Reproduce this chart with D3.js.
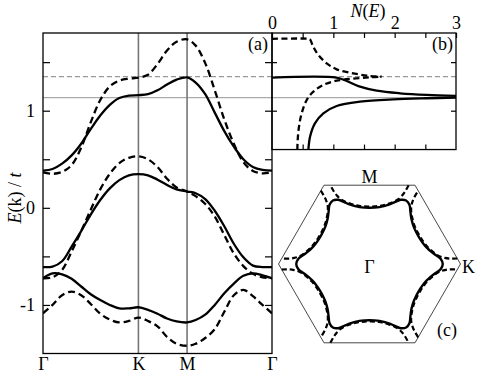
<!DOCTYPE html>
<html>
<head>
<meta charset="utf-8">
<script src="https://cdn.jsdelivr.net/npm/d3@7"></script>
<style>
  body { margin: 0; background: #fff; }
  svg { display: block; }
  text { font-family: "Liberation Serif", "Times New Roman", Times, serif; fill: #000; }
</style>
</head>
<body>
<script>
// --- data ---
// path coordinate along Γ-K-M-Γ
var kNodes = [0, 1, 1.51, 2.4];
var kLabels = ["Γ", "K", "M", "Γ"];
var kGrid = [0, 0.1, 0.2, 0.3, 0.4, 0.5, 0.6, 0.7, 0.8, 0.9, 1.0,
             1.1, 1.2, 1.3, 1.4, 1.51,
             1.6, 1.7, 1.8, 1.9, 2.0, 2.1, 2.2, 2.3, 2.4];

// energies E(k)/t, solid and dashed
var band1Solid = [0.383, 0.40, 0.455, 0.54, 0.66, 0.81, 0.95, 1.06, 1.13, 1.155, 1.16,
                  1.17, 1.21, 1.27, 1.32, 1.343,
                  1.29, 1.17, 0.98, 0.79, 0.63, 0.50, 0.42, 0.39, 0.383];
var band1Dash  = [0.365, 0.35, 0.37, 0.44, 0.62, 0.88, 1.11, 1.25, 1.31, 1.33, 1.34,
                  1.37, 1.48, 1.62, 1.71, 1.735,
                  1.67, 1.49, 1.21, 0.91, 0.66, 0.47, 0.38, 0.355, 0.365];
var band2Solid = [-0.61, -0.605, -0.55, -0.40, -0.24, -0.07, 0.08, 0.20, 0.285, 0.335, 0.347,
                  0.335, 0.29, 0.235, 0.19, 0.168,
                  0.15, 0.09, -0.03, -0.19, -0.37, -0.51, -0.595, -0.61, -0.61];
var band2Dash  = [-0.725, -0.715, -0.64, -0.45, -0.24, -0.02, 0.19, 0.35, 0.46, 0.515, 0.53,
                  0.50, 0.42, 0.30, 0.21, 0.168,
                  0.12, 0.04, -0.09, -0.28, -0.47, -0.60, -0.68, -0.715, -0.725];
var band3Solid = [-0.725, -0.675, -0.685, -0.73, -0.81, -0.89, -0.95, -1.00, -1.035, -1.035, -1.024,
                  -1.05, -1.09, -1.14, -1.17, -1.18,
                  -1.155, -1.10, -1.00, -0.88, -0.78, -0.70, -0.675, -0.695, -0.725];
var band3Dash  = [-1.086, -1.00, -0.90, -0.863, -0.90, -0.99, -1.09, -1.15, -1.18, -1.165, -1.13,
                  -1.165, -1.22, -1.33, -1.40, -1.42,
                  -1.40, -1.34, -1.25, -1.07, -0.90, -0.845, -0.91, -1.00, -1.086];

// reference energies (gray lines)
var eSolidRef = 1.134;
var eDashRef = 1.35;

// density of states N(E), panel (b)
var dosTicks = [0, 1, 2, 3];
var dosSolidUpN = [0, 1.05, 1.218, 1.435, 1.707, 2.087, 2.522, 3.0];
var dosSolidUpE = [1.34, 1.34, 1.306, 1.247, 1.206, 1.179, 1.162, 1.152];
var dosSolidLoN = [0.58, 0.592, 0.62, 0.70, 0.837, 1.055, 1.435, 1.978, 2.522, 3.0];
var dosSolidLoE = [0.50, 0.595, 0.732, 0.87, 0.973, 1.048, 1.093, 1.117, 1.128, 1.134];
var dosDashUpN = [0, 0.60, 0.62, 0.673, 0.755, 0.892, 1.055, 1.326, 1.598, 1.79];
var dosDashUpE = [1.74, 1.74, 1.735, 1.659, 1.574, 1.488, 1.426, 1.385, 1.357, 1.35];
var dosDashLoN = [0.41, 0.413, 0.419, 0.44, 0.484, 0.566, 0.674, 0.837, 1.055, 1.326, 1.598, 1.79];
var dosDashLoE = [0.50, 0.595, 0.698, 0.835, 0.973, 1.11, 1.196, 1.265, 1.309, 1.33, 1.344, 1.35];

// Fermi surfaces, panel (c): one 30° wedge (angle from Γ-K, radius in units of ΓK)
var fsPhi = [0, 4, 8, 12, 16, 20, 25, 30];
var fsSolidR = [0.805, 0.785, 0.73, 0.685, 0.655, 0.635, 0.622, 0.618];
var fsDashPhi = [3.6, 3.9, 4.6, 6, 9, 13, 17, 21, 25, 30];
var fsDashR = [0.967, 0.88, 0.83, 0.78, 0.73, 0.69, 0.662, 0.645, 0.635, 0.632];

// --- layout ---
var W = 480, H = 373, fs = 18;
var svg = d3.select("body").append("svg")
	.attr("width", W)
	.attr("height", H);

var x = d3.scaleLinear().domain([0, 2.4]).range([43, 272]);
var y = d3.scaleLinear().domain([-1.5, 1.8]).range([353.5, 33]);
var xN = d3.scaleLinear().domain([0, 3]).range([272, 456]);
var yB = d3.scaleLinear().domain([0.6, 1.8]).range([y(0.6), 33]);

var solidW = 2.3, dashArr = "7,4";

// gray reference lines across (a) and (b)
svg.append("line")
	.attr("x1", x(0)).attr("x2", xN(3))
	.attr("y1", y(eSolidRef)).attr("y2", y(eSolidRef))
	.attr("stroke", "#aaa").attr("stroke-width", 1.3);
svg.append("line")
	.attr("x1", x(0)).attr("x2", xN(3))
	.attr("y1", y(eDashRef)).attr("y2", y(eDashRef))
	.attr("stroke", "#999").attr("stroke-width", 1.2)
	.attr("stroke-dasharray", "5,3");

// vertical lines at K and M
svg.selectAll("line.sym")
	.data(kNodes.slice(1, 3))
	.enter()
	.append("line")
	.attr("class", "sym")
	.attr("x1", function(d) { return x(d); })
	.attr("x2", function(d) { return x(d); })
	.attr("y1", y(1.8)).attr("y2", y(-1.5))
	.attr("stroke", "#777").attr("stroke-width", 1.6);

// bands
svg.append("clipPath").attr("id", "clipA")
	.append("rect").attr("x", 43).attr("y", 33).attr("width", 229).attr("height", 320.5);

var bandLine = d3.line()
	.x(function(d) { return x(d[0]); })
	.y(function(d) { return y(d[1]); })
	.curve(d3.curveCatmullRom);

var bands = [
	{ e: band1Solid, dash: false }, { e: band1Dash, dash: true },
	{ e: band2Solid, dash: false }, { e: band2Dash, dash: true },
	{ e: band3Solid, dash: false }, { e: band3Dash, dash: true }
];

svg.append("g").attr("clip-path", "url(#clipA)")
	.selectAll("path")
	.data(bands)
	.enter()
	.append("path")
	.attr("d", function(b) {
		return bandLine(kGrid.map(function(k, i) { return [k, b.e[i]]; }));
	})
	.attr("fill", "none")
	.attr("stroke", "#000")
	.attr("stroke-width", solidW)
	.attr("stroke-dasharray", function(b) { return b.dash ? dashArr : null; });

// DOS curves
svg.append("clipPath").attr("id", "clipB")
	.append("rect").attr("x", 272).attr("y", 33).attr("width", 184).attr("height", y(0.6) - 33);

var dosLine = d3.line()
	.x(function(d) { return xN(d[0]); })
	.y(function(d) { return yB(d[1]); })
	.curve(d3.curveCatmullRom);

var dos = [
	{ n: dosSolidUpN, e: dosSolidUpE, dash: false },
	{ n: dosSolidLoN, e: dosSolidLoE, dash: false },
	{ n: dosDashUpN, e: dosDashUpE, dash: true },
	{ n: dosDashLoN, e: dosDashLoE, dash: true }
];

svg.append("g").attr("clip-path", "url(#clipB)")
	.selectAll("path")
	.data(dos)
	.enter()
	.append("path")
	.attr("d", function(c) {
		return dosLine(c.n.map(function(n, i) { return [n, c.e[i]]; }));
	})
	.attr("fill", "none")
	.attr("stroke", "#000")
	.attr("stroke-width", solidW)
	.attr("stroke-dasharray", function(c) { return c.dash ? "6,3.5" : null; });

// frames
svg.append("rect")
	.attr("x", 43).attr("y", 33).attr("width", 229).attr("height", 320.5)
	.attr("fill", "none").attr("stroke", "#000").attr("stroke-width", 1.3);
svg.append("rect")
	.attr("x", 272).attr("y", 33).attr("width", 184).attr("height", y(0.6) - 33)
	.attr("fill", "none").attr("stroke", "#000").attr("stroke-width", 1.3);

// axes of (a)
var fmt = function(d) { return d < 0 ? "-" + Math.abs(d) : d; };
var gL = svg.append("g").attr("transform", "translate(43,0)")
	.call(d3.axisLeft(y).tickValues([-1, 0, 1]).tickSize(-7).tickPadding(8).tickFormat(fmt));
var gLm = svg.append("g").attr("transform", "translate(43,0)")
	.call(d3.axisLeft(y).tickValues([-0.5, 0.5, 1.5]).tickSize(-7).tickFormat(""));
var gR = svg.append("g").attr("transform", "translate(272,0)")
	.call(d3.axisRight(y).tickValues([-1, -0.5, 0, 0.5, 1, 1.5]).tickSize(-7).tickFormat(""));
var gBot = svg.append("g").attr("transform", "translate(0,353.5)")
	.call(d3.axisBottom(x).tickValues(kNodes).tickSize(0).tickPadding(4)
		.tickFormat(function(d, i) { return kLabels[i]; }));

// axes of (b)
var gT = svg.append("g").attr("transform", "translate(0,33)")
	.call(d3.axisTop(xN).tickValues(dosTicks).tickSize(-5).tickPadding(4).tickFormat(d3.format("d")));
var gTm = svg.append("g").attr("transform", "translate(0,33)")
	.call(d3.axisTop(xN).tickValues([0.5, 1.5, 2.5]).tickSize(-5).tickFormat(""));
var gB2 = svg.append("g").attr("transform", "translate(0," + y(0.6) + ")")
	.call(d3.axisBottom(xN).tickValues([0.5, 1, 1.5, 2, 2.5]).tickSize(-5).tickFormat(""));
var gBl = svg.append("g").attr("transform", "translate(272,0)")
	.call(d3.axisLeft(yB).tickValues([1, 1.5]).tickSize(-5).tickFormat(""));
var gBr = svg.append("g").attr("transform", "translate(456,0)")
	.call(d3.axisRight(yB).tickValues([1, 1.5]).tickSize(-5).tickFormat(""));

[gL, gLm, gR, gBot, gT, gTm, gB2, gBl, gBr].forEach(function(g) {
	g.attr("font-family", null).attr("font-size", fs);
	g.select(".domain").remove();
	g.selectAll(".tick line").attr("stroke", "#000").attr("stroke-width", 1.2);
	g.selectAll("text").attr("fill", "#000");
});

// titles
var yl = svg.append("text")
	.attr("transform", "translate(21,198) rotate(-90)")
	.attr("text-anchor", "middle")
	.attr("font-size", fs);
yl.append("tspan").attr("font-style", "italic").text("E");
yl.append("tspan").text("(k) / ");
yl.append("tspan").attr("font-style", "italic").text("t");

var nl = svg.append("text")
	.attr("x", 368).attr("y", 17)
	.attr("text-anchor", "middle")
	.attr("font-size", fs);
nl.append("tspan").attr("font-style", "italic").text("N");
nl.append("tspan").text("(");
nl.append("tspan").attr("font-style", "italic").text("E");
nl.append("tspan").text(")");

svg.append("text").attr("x", 268).attr("y", 50).attr("text-anchor", "end")
	.attr("font-size", fs).text("(a)");
svg.append("text").attr("x", 453).attr("y", 50).attr("text-anchor", "end")
	.attr("font-size", fs).text("(b)");

// panel (c): Brillouin zone and Fermi surfaces
var cx = 369.5, cy = 264;
var kr = d3.scaleLinear().domain([0, 1]).range([0, 91]);
var polar = d3.line()
	.x(function(d) { return cx + kr(d[1]) * Math.cos(d[0] * Math.PI / 180); })
	.y(function(d) { return cy - kr(d[1]) * Math.sin(d[0] * Math.PI / 180); });

var sectors = d3.range(0, 360, 60);

svg.append("path")
	.attr("d", polar.curve(d3.curveLinearClosed)(sectors.map(function(a) { return [a, 1]; })))
	.attr("fill", "none").attr("stroke", "#333").attr("stroke-width", 0.9);

// solid FS: closed, 12 mirrored half-wedges
var solidPts = [];
sectors.forEach(function(a) {
	fsPhi.forEach(function(p, i) { if (i < fsPhi.length - 1) solidPts.push([a + p, fsSolidR[i]]); });
	for (var i = fsPhi.length - 1; i > 0; i--) solidPts.push([a + 60 - fsPhi[i], fsSolidR[i]]);
});
svg.append("path")
	.attr("d", polar.curve(d3.curveCatmullRomClosed)(solidPts))
	.attr("fill", "none").attr("stroke", "#000").attr("stroke-width", 2.4);

// dashed FS: open arcs reaching out to the zone edge near K
var dashArcs = sectors.map(function(a) {
	var pts = [];
	fsDashPhi.forEach(function(p, i) { pts.push([a + p, fsDashR[i]]); });
	for (var i = fsDashPhi.length - 2; i >= 0; i--) pts.push([a + 60 - fsDashPhi[i], fsDashR[i]]);
	return pts;
});
svg.selectAll("path.fsd")
	.data(dashArcs)
	.enter()
	.append("path")
	.attr("class", "fsd")
	.attr("d", function(d) { return polar.curve(d3.curveCatmullRom)(d); })
	.attr("fill", "none").attr("stroke", "#000").attr("stroke-width", 2.2)
	.attr("stroke-dasharray", "5,3");

svg.append("text").attr("x", cx).attr("y", 183).attr("text-anchor", "middle")
	.attr("font-size", fs).text("M");
svg.append("text").attr("x", cx).attr("y", 273).attr("text-anchor", "middle")
	.attr("font-size", fs).text("Γ");
svg.append("text").attr("x", 462).attr("y", 273)
	.attr("font-size", fs).text("K");
svg.append("text").attr("x", 457).attr("y", 336).attr("text-anchor", "end")
	.attr("font-size", fs).text("(c)");
</script>
</body>
</html>
